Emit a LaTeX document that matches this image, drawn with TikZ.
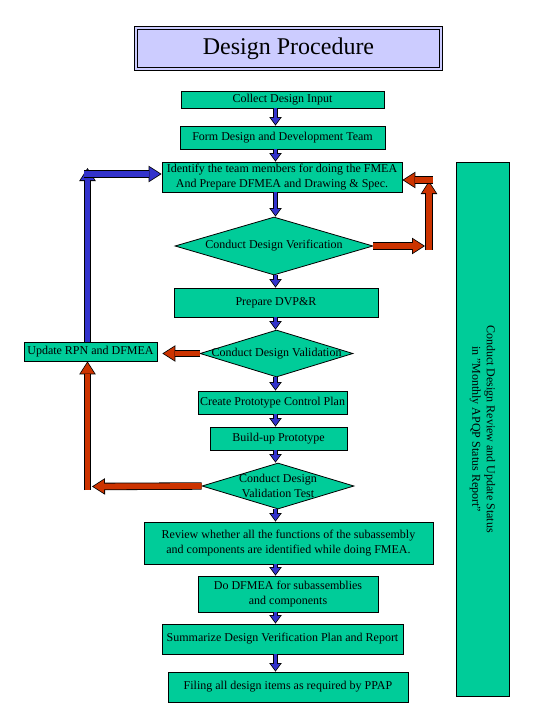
\documentclass[tikz,border=0pt]{standalone}
\usepackage{fontspec}
\setmainfont{Liberation Serif}
\usetikzlibrary{shapes.geometric,arrows.meta}
\definecolor{boxgreen}{RGB}{0,204,153}
\definecolor{titlelilac}{RGB}{204,204,255}
\definecolor{arrowblue}{RGB}{51,51,204}
\definecolor{arrowred}{RGB}{204,51,0}
\newcommand{\boxfont}{\fontsize{12}{14.5}\selectfont}
\tikzset{
    common/.style={draw, line width=0.8pt, fill=boxgreen, inner sep=0pt, font=\boxfont, align=center},
    task/.style={common, rectangle},
    decision/.style={common, diamond},
    dectext/.style={font=\boxfont, align=center, inner sep=0pt},
    titlebox/.style={draw, fill=titlelilac, double=titlelilac, double distance=2.4pt, line width=0.9pt,
        minimum width=304.8pt, minimum height=40.8pt, font=\fontsize{24}{28}\selectfont},
    flowarrow/.style={draw=#1, line width=3.4pt, -{Triangle[length=6.4pt, width=9.5pt, sep=1.35pt, line width=0pt]},
        preaction={draw=black, line width=5pt, -{Triangle[length=8.6pt, width=12.6pt, line width=0pt]}}},
    looparrow/.style={draw=#1, line width=5.8pt, -{Triangle[length=10.7pt, width=13.8pt, sep=1.5pt, line width=0pt]},
        preaction={draw=black, line width=7.4pt, -{Triangle[length=13pt, width=16.6pt, line width=0pt]}}}
}
\begin{document}
\begin{tikzpicture}[x=1pt, y=-1pt]
    \useasboundingbox (0,0) rectangle (540,720);

    \node[titlebox] (title) at (288.5,48.5) {Design Procedure};

    % main column
    \node[task, minimum width=203pt, minimum height=17pt] (collect) at (282.5,99.5) {Collect Design Input};
    \node[task, minimum width=205pt, minimum height=23pt] (form) at (282.5,137.5) {Form Design and Development Team};
    \node[task, minimum width=240pt, minimum height=30pt] (identify) at (282,177) {Identify the team members for doing the FMEA\\And Prepare DFMEA and Drawing \& Spec.};
    \node[decision, minimum width=198pt, minimum height=58pt, label={[dectext]center:Conduct Design Verification}] (verif) at (274,246) {};
    \node[task, minimum width=204pt, minimum height=29pt] (dvpr) at (276,302.5) {Prepare DVP\&R};
    \node[decision, minimum width=153pt, minimum height=47pt, label={[dectext]center:Conduct Design Validation}] (valid) at (276.5,353.5) {};
    \node[task, minimum width=149pt, minimum height=23pt] (control) at (272.5,402.5) {Create Prototype Control Plan};
    \node[task, minimum width=137pt, minimum height=23pt] (build) at (278.5,438.5) {Build-up Prototype};
    \node[decision, minimum width=152pt, minimum height=46pt, label={[dectext]center:Conduct Design\\Validation Test}] (vtest) at (278,486) {};
    \node[task, minimum width=289pt, minimum height=42pt] (review) at (288.5,543) {Review whether all the functions of the subassembly\\and components are identified while doing FMEA.};
    \node[task, minimum width=180pt, minimum height=36pt] (dodfmea) at (288,594) {Do DFMEA for subassemblies\\and components};
    \node[task, minimum width=241pt, minimum height=30pt] (summ) at (282.5,639) {Summarize Design Verification Plan and Report};
    \node[task, minimum width=240pt, minimum height=30pt] (filing) at (288,687) {Filing all design items as required by PPAP};

    % side boxes
    \node[task, minimum width=133pt, minimum height=19pt] (update) at (90.5,351.5) {Update RPN and DFMEA};
    \node[task, rotate=-90, minimum width=534pt, minimum height=53pt] (status) at (482.5,429) {Conduct Design Review and Update Status\\in "Monthly APQP Status Report"};

    % bends of the loops
    \coordinate (axis) at (275.5,0);
    \coordinate (lcol) at (87.5,0);
    \coordinate (ltop) at (87.5,168);
    \coordinate (lturn) at (84,174);
    \coordinate (lrise) at (87.5,490);
    \coordinate (ljoin) at (92,486.5);
    \coordinate (rjoin) at (425,246);
    \coordinate (rrise) at (429,250);
    \coordinate (rtop) at (429,181);
    \coordinate (rturn) at (433,180);

    \draw[flowarrow=arrowblue] (collect.south -| axis) -- (form.north -| axis);
    \draw[flowarrow=arrowblue] (form.south -| axis) -- (identify.north -| axis);
    \draw[flowarrow=arrowblue] (identify.south -| axis) -- (verif.north -| axis);
    \draw[flowarrow=arrowblue] (verif.south -| axis) -- (dvpr.north -| axis);
    \draw[flowarrow=arrowblue] (dvpr.south -| axis) -- (valid.north -| axis);
    \draw[flowarrow=arrowblue] (valid.south -| axis) -- (control.north -| axis);
    \draw[flowarrow=arrowblue] (control.south -| axis) -- (build.north -| axis);
    \draw[flowarrow=arrowblue] (build.south -| axis) -- (vtest.north -| axis);
    \draw[flowarrow=arrowblue] (vtest.south -| axis) -- (review.north -| axis);
    \draw[flowarrow=arrowblue] (review.south -| axis) -- (dodfmea.north -| axis);
    \draw[flowarrow=arrowblue] (dodfmea.south -| axis) -- (summ.north -| axis);
    \draw[flowarrow=arrowblue] (summ.south -| axis) -- (filing.north -| axis);

    % verification loop
    \draw[looparrow=arrowred] (verif.east) -- (rjoin);
    \draw[looparrow=arrowred] (rrise) -- (rtop);
    \draw[looparrow=arrowred] (rturn) -- (identify.east |- rturn);

    % validation loops
    \draw[looparrow=arrowred, shorten >=5pt] (valid.west) -- (update.east |- valid.west);
    \draw[looparrow=arrowred] (vtest.west) -- (ljoin);
    \draw[looparrow=arrowred] (lrise) -- (update.south -| lcol);
    \draw[looparrow=arrowblue] (update.north -| lcol) -- (ltop);
    \draw[looparrow=arrowblue] (lturn) -- (identify.west |- lturn);
\end{tikzpicture}
\end{document}
